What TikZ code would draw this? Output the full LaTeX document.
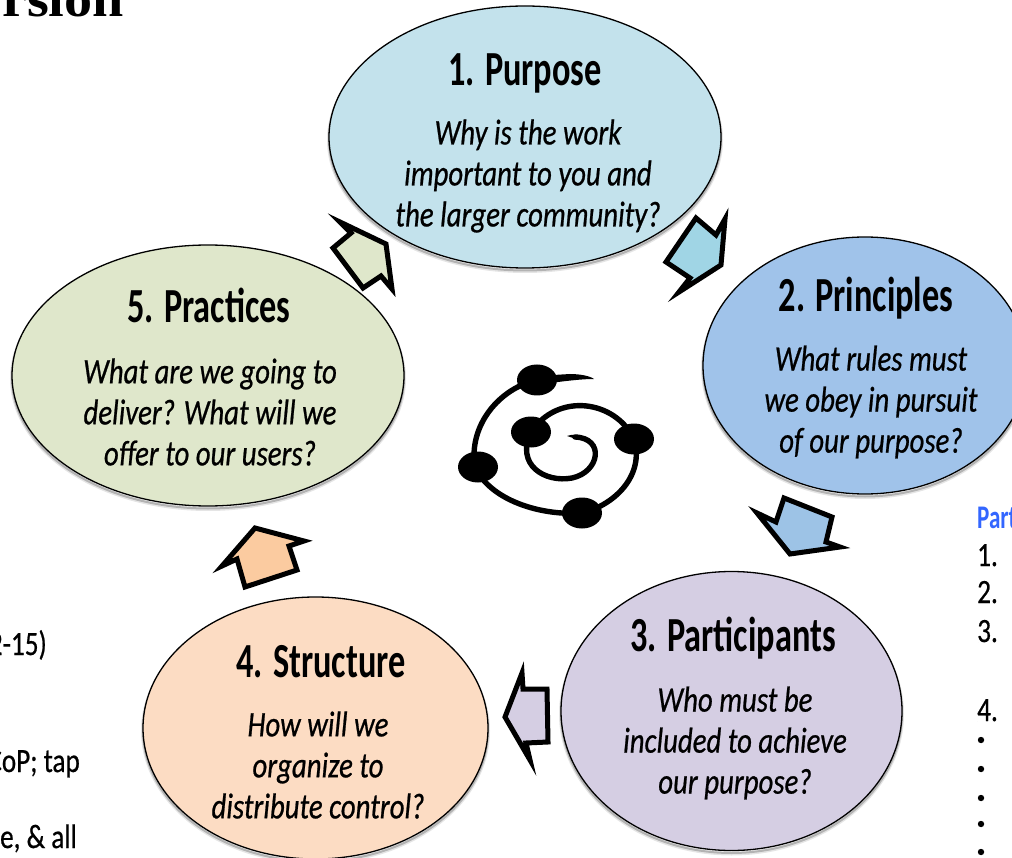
\documentclass[tikz,border=0pt]{standalone}
\usepackage{fontspec}
\usetikzlibrary{shapes.geometric}
\setmainfont{Carlito}
\newfontfamily\headfont[FakeStretch=0.70,BoldFont=Carlito Bold]{Carlito}
\newfontfamily\bodyfont[FakeStretch=0.80,ItalicFeatures={FakeBold=0.6}]{Carlito}
\newfontfamily\fragfont[FakeStretch=0.80,FakeBold=0.6]{Carlito}
\newfontfamily\titlefont[FakeStretch=1.10]{Liberation Serif}
\definecolor{cPurpose}{HTML}{C3E2EC}
\definecolor{cPrinciples}{HTML}{A0C3EA}
\definecolor{cParticipants}{HTML}{D5CEE3}
\definecolor{cStructure}{HTML}{FCDCC3}
\definecolor{cPractices}{HTML}{DFE7CB}
\definecolor{aPurpose}{HTML}{A0D5E5}
\definecolor{aPrinciples}{HTML}{9DC3E6}
\definecolor{aStructure}{HTML}{FBCBA0}
\definecolor{linkblue}{HTML}{3366FF}
\tikzset{
  bubble/.style={ellipse,draw=black,line width=1.3pt,inner sep=0pt,
    preaction={draw=black,draw opacity=.10,line width=4pt,transform canvas={yshift=-3pt}},
    preaction={draw=black,draw opacity=.22,line width=2pt,transform canvas={yshift=-2.5pt}}},
  heading/.style={font=\headfont\bfseries\fontsize{49}{49}\selectfont,anchor=base,inner sep=0pt},
  question/.style={font=\bodyfont\itshape\fontsize{36}{41}\selectfont,align=center,inner sep=0pt},
  blockarrow/.style={draw=black,line width=5pt,miter limit=14,line join=miter},
  frag/.style={font=\fragfont\fontsize{34}{34}\selectfont,anchor=base west,inner sep=0pt},
  blob/.style={ellipse,fill=black,minimum width=40pt,minimum height=31pt,inner sep=0pt},
}
\begin{document}
\begin{tikzpicture}[x=1pt,y=-1pt]
\useasboundingbox (0,0) rectangle (1012,858);
\clip (0,0) rectangle (1012,858);

% cut-off page text
\node[anchor=base west,inner sep=0pt,font=\titlefont\bfseries\fontsize{51}{51}\selectfont] (title) at (2,17) {rsion};
\node[frag,anchor=base east] (fragA) at (47,655) {2-15)};
\node[frag,anchor=base east] (fragB) at (80,772) {CoP; tap};
\node[frag,anchor=base east] (fragC) at (77,848) {ce, \& all};
\node[frag,text=linkblue,font=\headfont\bfseries\fontsize{33}{33}\selectfont] (part) at (977,528) {Part};
\node[frag] (n1) at (977,566) {1.};
\node[frag] (n2) at (977,603) {2.};
\node[frag] (n3) at (977,642) {3.};
\node[frag] (n4) at (977,721) {4.};
\foreach \yy/\nn in {740/a,769/b,798/c,824/d,852/e}
  \fill[black] (981,\yy) circle (3.2pt);

% bubbles
\node[bubble,fill=cPurpose,minimum width=392pt,minimum height=262pt] (purpose) at (525,137) {};
\node[bubble,fill=cPrinciples,minimum width=324pt,minimum height=257pt] (principles) at (865,365.5) {};
\node[bubble,fill=cParticipants,minimum width=341pt,minimum height=279pt] (participants) at (731.5,711) {};
\node[bubble,fill=cStructure,minimum width=345pt,minimum height=262pt] (structure) at (315.5,728) {};
\node[bubble,fill=cPractices,minimum width=392pt,minimum height=261pt] (practices) at (208,375.5) {};

% texts
\node[heading] (h1) at (525,86) {1. Purpose};
\node[question] (q1) at (528,176) {Why is the work\\important to you and\\the larger community?};
\node[heading] (h2) at (866,312) {2. Principles};
\node[question] (q2) at (871,402) {What rules must\\we obey in pursuit\\of our purpose?};
\node[heading] (h3) at (733,651) {3. Participants};
\node[question] (q3) at (735,743) {Who must be\\included to achieve\\our purpose?};
\node[heading] (h4) at (321,677) {4. Structure};
\node[question] (q4) at (318,765) {How will we\\organize to\\distribute control?};
\node[heading] (h5) at (209,323) {5. Practices};
\node[question] (q5) at (210,412) {What are we going to\\deliver? What will we\\offer to our users?};

% block arrows between the bubbles
\draw[blockarrow,fill=cPractices] (340,222) -- (386,244) -- (392,289) -- (381,276) -- (363,288) -- (333,248) -- (351,233) -- cycle;
\draw[blockarrow,fill=aPurpose] (725,219) -- (721,265) -- (679,292) -- (690,278) -- (666,262) -- (696,218) -- (716,235) -- cycle;
\draw[blockarrow,fill=aPrinciples] (757,513) -- (776,522) -- (784,498) -- (832,517) -- (826,542) -- (840,547) -- (790,554) -- cycle;
\draw[blockarrow,fill=cParticipants] (505,717) -- (522,673) -- (523,689) -- (547,689) -- (548,742) -- (526,743) -- (530,760) -- cycle;
\draw[blockarrow,fill=aStructure] (255,528) -- (304,541) -- (289,546) -- (297,570) -- (245,587) -- (237,559) -- (222,566) -- cycle;

% spiral emblem
\draw[line width=5.4pt,line cap=round] (537,380) .. controls (500,388) and (468,425) .. (475,467)
   .. controls (490,500) and (540,516) .. (582,513)
   .. controls (615,505) and (645,475) .. (634,439)
   .. controls (615,400) and (558,392) .. (531,432)
   .. controls (515,465) and (545,483) .. (572,478)
   .. controls (600,472) and (605,438) .. (575,437);
\fill (537,376) -- (570,374) .. controls (580,374) and (590,376) .. (594,379) .. controls (585,379) and (570,380) .. (537,385) -- cycle;
\fill (578,440) .. controls (574,438) and (570,437) .. (567,436) .. controls (572,434) and (580,434) .. (588,439) -- cycle;
\node[blob] (s1) at (537,380) {};
\node[blob] (s2) at (531,432) {};
\node[blob] (s3) at (634,439) {};
\node[blob] (s4) at (478,467) {};
\node[blob] (s5) at (582,513) {};
\end{tikzpicture}
\end{document}
